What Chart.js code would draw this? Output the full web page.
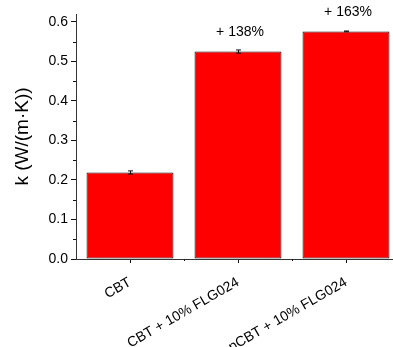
<!DOCTYPE html>
<html>
<head>
<meta charset="utf-8">
<script src="https://cdn.jsdelivr.net/npm/chart.js@4.4.0/dist/chart.umd.min.js"></script>
<style>
    html, body { margin: 0; padding: 0; background: #fff; overflow: hidden; }
    #wrap { width: 410px; height: 347px; }
</style>
</head>
<body>
<div id="wrap"><canvas id="first_chart"></canvas></div>
<script>
const categories = ['CBT', 'CBT + 10% FLG024', 'pCBT + 10% FLG024'];
const values = [0.219, 0.525, 0.576];
const errors = [0.004, 0.004, 0.001];
const notes = ['', '+ 138%', '+ 163%'];
const yTicks = [0, 0.1, 0.2, 0.3, 0.4, 0.5, 0.6];

const FONT = "'Liberation Sans', Arial, sans-serif";
const INK = '#111';

// error bars, minor ticks and the % labels
const extras = {
    id: 'extras',
    afterDatasetsDraw(chart) {
        const ctx = chart.ctx;
        const x = chart.scales.x;
        const y = chart.scales.y;
        const bottom = chart.chartArea.bottom;
        const left = chart.chartArea.left;
        ctx.save();
        ctx.strokeStyle = INK;
        ctx.lineWidth = 1;

        // minor ticks on y
        for (let i = 0; i < yTicks.length - 1; i++) {
            const py = Math.round(y.getPixelForValue((yTicks[i] + yTicks[i + 1]) / 2)) + 0.5;
            ctx.beginPath();
            ctx.moveTo(left - 3, py);
            ctx.lineTo(left, py);
            ctx.stroke();
        }
        // minor ticks on x between categories
        for (let i = 0; i < categories.length - 1; i++) {
            const px = Math.round(x.getPixelForValue(i + 0.5)) + 0.5;
            ctx.beginPath();
            ctx.moveTo(px, bottom);
            ctx.lineTo(px, bottom + 2);
            ctx.stroke();
        }

        // error bars
        values.forEach((v, i) => {
            const px = Math.round(x.getPixelForValue(i)) + 0.5;
            const top = y.getPixelForValue(v + errors[i]);
            const bot = y.getPixelForValue(v - errors[i]);
            ctx.beginPath();
            ctx.moveTo(px, top);
            ctx.lineTo(px, bot);
            ctx.moveTo(px - 2.5, top);
            ctx.lineTo(px + 2.5, top);
            ctx.moveTo(px - 2.5, bot);
            ctx.lineTo(px + 2.5, bot);
            ctx.stroke();
        });

        // % labels
        ctx.fillStyle = '#000';
        ctx.font = '14px ' + FONT;
        ctx.textAlign = 'center';
        ctx.textBaseline = 'alphabetic';
        notes.forEach((t, i) => {
            if (!t) return;
            ctx.fillText(t, x.getPixelForValue(i) + 2, y.getPixelForValue(values[i]) - 15.5);
        });
        ctx.restore();
    }
};

$ = id => document.getElementById(id);

new Chart($('first_chart'), {
    type: 'bar',
    data: {
        labels: categories,
        datasets: [{
            data: values,
            backgroundColor: '#ff0000',
            borderColor: INK,
            borderWidth: 1,
            borderSkipped: false,
            categoryPercentage: 1,
            barPercentage: 0.805
        }]
    },
    options: {
        responsive: true,
        maintainAspectRatio: false,
        animation: false,
        events: [],
        layout: { padding: { top: 14, right: 10, left: 0, bottom: 0 } },
        plugins: {
            legend: { display: false },
            tooltip: { enabled: false }
        },
        scales: {
            x: {
                offset: true,
                afterFit: s => { s.height = 88; },
                grid: {
                    offset: false,
                    drawOnChartArea: false,
                    tickLength: 4,
                    tickColor: INK
                },
                border: { display: true, color: '#333', width: 1 },
                ticks: {
                    maxRotation: 30,
                    minRotation: 30,
                    padding: 11,
                    color: '#000',
                    font: { family: FONT, size: 14 }
                }
            },
            y: {
                min: 0,
                max: 0.62,
                afterFit: s => { s.width = 76; },
                afterBuildTicks: s => {
                    s.ticks = yTicks.map(v => ({ value: v }));
                },
                grid: {
                    drawOnChartArea: false,
                    tickLength: 5,
                    tickColor: INK
                },
                border: { display: true, color: '#333', width: 1 },
                ticks: {
                    padding: 3,
                    color: '#000',
                    font: { family: FONT, size: 14 },
                    callback: v => v.toFixed(1)
                },
                title: {
                    display: true,
                    text: 'k (W/(m·K))',
                    color: '#000',
                    font: { family: FONT, size: 19 },
                    padding: { top: 11, bottom: 0 }
                }
            }
        }
    },
    plugins: [extras]
});
</script>
</body>
</html>
